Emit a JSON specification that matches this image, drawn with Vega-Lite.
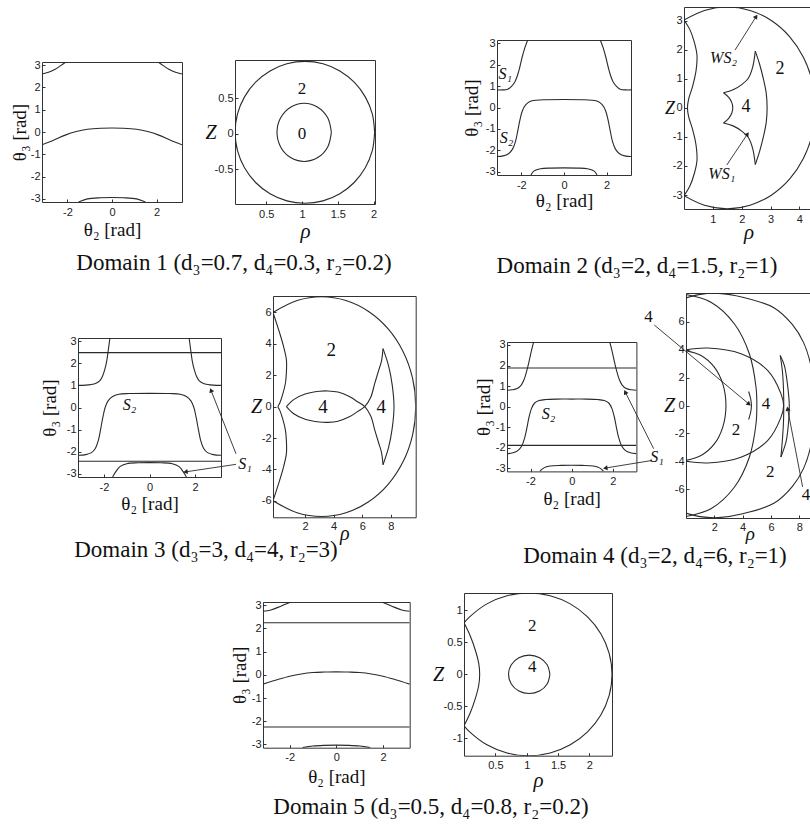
{
"$schema": "https://vega.github.io/schema/vega-lite/v6.json",
"background": "white",
"padding": 0,
"config": {
  "view": {"stroke": "#333", "strokeWidth": 1},
  "axis": {"domain": false, "grid": false, "ticks": true, "tickSize": -3, "tickColor": "#333", "labelFont": "Liberation Sans", "labelFontSize": 11, "labelColor": "#222", "titleFont": "Liberation Serif", "titleFontSize": 19, "titleFontWeight": "normal", "titleColor": "#111", "titleBaseline": "middle", "titleAlign": "center", "labelFlush": false, "labelOverlap": false, "labelBound": false},
  "axisX": {"labelPadding": 7},
  "axisY": {"labelPadding": 5},
  "line": {"color": "#2a2a2a", "strokeWidth": 1.1},
  "text": {"font": "Liberation Serif", "fontSize": 18, "color": "#111"},
  "point": {"color": "#222"}
},
"datasets": {
  "d1l": [
    {"c":"a","x":-3.14,"y":2.6},{"c":"a","x":-2.85,"y":2.68},{"c":"a","x":-2.55,"y":2.82},{"c":"a","x":-2.3,"y":2.98},{"c":"a","x":-2.07,"y":3.14},
    {"c":"b","x":2.07,"y":3.14},{"c":"b","x":2.3,"y":2.98},{"c":"b","x":2.55,"y":2.82},{"c":"b","x":2.85,"y":2.68},{"c":"b","x":3.14,"y":2.6},
    {"c":"c","x":-3.14,"y":-0.57},{"c":"c","x":-2.6,"y":-0.36},{"c":"c","x":-2.1,"y":-0.14},{"c":"c","x":-1.6,"y":0.02},{"c":"c","x":-1.1,"y":0.12},{"c":"c","x":-0.5,"y":0.17},{"c":"c","x":0,"y":0.18},{"c":"c","x":0.5,"y":0.17},{"c":"c","x":1.1,"y":0.12},{"c":"c","x":1.6,"y":0.02},{"c":"c","x":2.1,"y":-0.14},{"c":"c","x":2.6,"y":-0.36},{"c":"c","x":3.14,"y":-0.57},
    {"c":"d","x":-1.5,"y":-3.14},{"c":"d","x":-1.1,"y":-3.0},{"c":"d","x":-0.5,"y":-2.95},{"c":"d","x":0,"y":-2.94},{"c":"d","x":0.5,"y":-2.95},{"c":"d","x":1.1,"y":-3.0},{"c":"d","x":1.5,"y":-3.14}
  ],
  "d1r": [
    {"c":"o","x":2.015,"y":0.02},{"c":"o","x":1.982,"y":0.279},{"c":"o","x":1.884,"y":0.52},{"c":"o","x":1.729,"y":0.727},{"c":"o","x":1.528,"y":0.886},{"c":"o","x":1.293,"y":0.986},{"c":"o","x":1.04,"y":1.02},{"c":"o","x":0.788,"y":0.986},{"c":"o","x":0.553,"y":0.886},{"c":"o","x":0.351,"y":0.727},{"c":"o","x":0.196,"y":0.52},{"c":"o","x":0.098,"y":0.279},{"c":"o","x":0.065,"y":0.02},{"c":"o","x":0.098,"y":-0.239},{"c":"o","x":0.196,"y":-0.48},{"c":"o","x":0.351,"y":-0.687},{"c":"o","x":0.553,"y":-0.846},{"c":"o","x":0.788,"y":-0.946},{"c":"o","x":1.04,"y":-0.98},{"c":"o","x":1.293,"y":-0.946},{"c":"o","x":1.528,"y":-0.846},{"c":"o","x":1.729,"y":-0.687},{"c":"o","x":1.884,"y":-0.48},{"c":"o","x":1.982,"y":-0.239},{"c":"o","x":2.015,"y":0.02},
    {"c":"i","x":1.41,"y":0.02},{"c":"i","x":1.359,"y":0.225},{"c":"i","x":1.22,"y":0.375},{"c":"i","x":1.03,"y":0.43},{"c":"i","x":0.84,"y":0.375},{"c":"i","x":0.701,"y":0.225},{"c":"i","x":0.65,"y":0.02},{"c":"i","x":0.701,"y":-0.185},{"c":"i","x":0.84,"y":-0.335},{"c":"i","x":1.03,"y":-0.39},{"c":"i","x":1.22,"y":-0.335},{"c":"i","x":1.359,"y":-0.185},{"c":"i","x":1.41,"y":0.02}
  ],
  "d2l": [
    {"c":"a","x":-3.14,"y":0.82},{"c":"a","x":-2.9,"y":0.82},{"c":"a","x":-2.64,"y":0.85},{"c":"a","x":-2.45,"y":1.0},{"c":"a","x":-2.3,"y":1.2},{"c":"a","x":-2.18,"y":1.5},{"c":"a","x":-2.08,"y":1.85},{"c":"a","x":-1.96,"y":2.35},{"c":"a","x":-1.83,"y":2.8},{"c":"a","x":-1.7,"y":3.14},
    {"c":"b","x":1.7,"y":3.14},{"c":"b","x":1.83,"y":2.8},{"c":"b","x":1.96,"y":2.35},{"c":"b","x":2.08,"y":1.85},{"c":"b","x":2.18,"y":1.5},{"c":"b","x":2.3,"y":1.2},{"c":"b","x":2.45,"y":1.0},{"c":"b","x":2.64,"y":0.85},{"c":"b","x":2.9,"y":0.82},{"c":"b","x":3.14,"y":0.82},
    {"c":"c","x":-3.14,"y":-2.28},{"c":"c","x":-2.85,"y":-2.25},{"c":"c","x":-2.6,"y":-2.15},{"c":"c","x":-2.42,"y":-1.95},{"c":"c","x":-2.28,"y":-1.6},{"c":"c","x":-2.17,"y":-1.1},{"c":"c","x":-2.07,"y":-0.6},{"c":"c","x":-1.95,"y":-0.15},{"c":"c","x":-1.8,"y":0.12},{"c":"c","x":-1.6,"y":0.28},{"c":"c","x":-1.3,"y":0.34},{"c":"c","x":-0.8,"y":0.36},{"c":"c","x":0,"y":0.37},{"c":"c","x":0.8,"y":0.36},{"c":"c","x":1.3,"y":0.34},{"c":"c","x":1.6,"y":0.28},{"c":"c","x":1.8,"y":0.12},{"c":"c","x":1.95,"y":-0.15},{"c":"c","x":2.07,"y":-0.6},{"c":"c","x":2.17,"y":-1.1},{"c":"c","x":2.28,"y":-1.6},{"c":"c","x":2.42,"y":-1.95},{"c":"c","x":2.6,"y":-2.15},{"c":"c","x":2.85,"y":-2.25},{"c":"c","x":3.14,"y":-2.28},
    {"c":"d","x":-1.55,"y":-3.14},{"c":"d","x":-1.4,"y":-2.95},{"c":"d","x":-1.1,"y":-2.85},{"c":"d","x":-0.6,"y":-2.82},{"c":"d","x":0,"y":-2.81},{"c":"d","x":0.6,"y":-2.82},{"c":"d","x":1.1,"y":-2.85},{"c":"d","x":1.4,"y":-2.95},{"c":"d","x":1.55,"y":-3.14}
  ],
  "d2r": [
    {"c":"o","x":0,"y":3.02},{"c":"o","x":0.71,"y":3.35},{"c":"o","x":1.5,"y":3.47},{"c":"o","x":2.29,"y":3.35},{"c":"o","x":3.025,"y":3.005},{"c":"o","x":3.657,"y":2.454},{"c":"o","x":4.141,"y":1.735},{"c":"o","x":4.446,"y":0.898},{"c":"o","x":4.55,"y":0},{"c":"o","x":4.446,"y":-0.898},{"c":"o","x":4.141,"y":-1.735},{"c":"o","x":3.657,"y":-2.454},{"c":"o","x":3.025,"y":-3.005},{"c":"o","x":2.29,"y":-3.35},{"c":"o","x":1.5,"y":-3.47},{"c":"o","x":0.71,"y":-3.35},{"c":"o","x":0,"y":-3.02},
    {"c":"w","x":0,"y":3.02},{"c":"w","x":0.2,"y":2.7},{"c":"w","x":0.36,"y":2.25},{"c":"w","x":0.45,"y":1.8},{"c":"w","x":0.42,"y":1.3},{"c":"w","x":0.3,"y":0.75},{"c":"w","x":0.16,"y":0.3},{"c":"w","x":0.12,"y":0},{"c":"w","x":0.16,"y":-0.3},{"c":"w","x":0.3,"y":-0.75},{"c":"w","x":0.42,"y":-1.3},{"c":"w","x":0.45,"y":-1.8},{"c":"w","x":0.36,"y":-2.25},{"c":"w","x":0.2,"y":-2.7},{"c":"w","x":0,"y":-3.02},
    {"c":"r","x":2.47,"y":1.95},{"c":"r","x":2.62,"y":1.5},{"c":"r","x":2.75,"y":1.0},{"c":"r","x":2.85,"y":0.5},{"c":"r","x":2.88,"y":0},{"c":"r","x":2.85,"y":-0.5},{"c":"r","x":2.75,"y":-1.0},{"c":"r","x":2.62,"y":-1.5},{"c":"r","x":2.47,"y":-1.95},
    {"c":"u","x":2.47,"y":1.95},{"c":"u","x":2.38,"y":1.4},{"c":"u","x":2.23,"y":1.02},{"c":"u","x":2.0,"y":0.8},{"c":"u","x":1.7,"y":0.62},{"c":"u","x":1.37,"y":0.52},
    {"c":"s","x":1.37,"y":0.52},{"c":"s","x":1.55,"y":0.36},{"c":"s","x":1.66,"y":0.17},{"c":"s","x":1.69,"y":0},{"c":"s","x":1.66,"y":-0.17},{"c":"s","x":1.55,"y":-0.36},{"c":"s","x":1.37,"y":-0.52},
    {"c":"l","x":1.37,"y":-0.52},{"c":"l","x":1.7,"y":-0.62},{"c":"l","x":2.0,"y":-0.8},{"c":"l","x":2.23,"y":-1.02},{"c":"l","x":2.38,"y":-1.4},{"c":"l","x":2.47,"y":-1.95}
  ],
  "a2r": [
    {"c":"A","x":1.77,"y":1.99,"h":0},{"c":"A","x":2.5,"y":3.14,"h":1},
    {"c":"B","x":1.48,"y":-1.97,"h":0},{"c":"B","x":2.2,"y":-0.9,"h":1}
  ],
  "d3l": [
    {"c":"h1","x":-3.1416,"y":2.48},{"c":"h1","x":3.1416,"y":2.48},
    {"c":"h2","x":-3.1416,"y":-2.43},{"c":"h2","x":3.1416,"y":-2.43},
    {"c":"a","x":-3.14,"y":1.0},{"c":"a","x":-2.8,"y":1.01},{"c":"a","x":-2.56,"y":1.04},{"c":"a","x":-2.35,"y":1.1},{"c":"a","x":-2.19,"y":1.2},{"c":"a","x":-2.07,"y":1.4},{"c":"a","x":-1.97,"y":1.7},{"c":"a","x":-1.88,"y":2.1},{"c":"a","x":-1.81,"y":2.6},{"c":"a","x":-1.74,"y":3.14},
    {"c":"b","x":1.74,"y":3.14},{"c":"b","x":1.81,"y":2.6},{"c":"b","x":1.88,"y":2.1},{"c":"b","x":1.97,"y":1.7},{"c":"b","x":2.07,"y":1.4},{"c":"b","x":2.19,"y":1.2},{"c":"b","x":2.35,"y":1.1},{"c":"b","x":2.56,"y":1.04},{"c":"b","x":2.8,"y":1.01},{"c":"b","x":3.14,"y":1.0},
    {"c":"c","x":-3.14,"y":-2.16},{"c":"c","x":-2.8,"y":-2.13},{"c":"c","x":-2.55,"y":-2.04},{"c":"c","x":-2.38,"y":-1.85},{"c":"c","x":-2.25,"y":-1.5},{"c":"c","x":-2.15,"y":-1.0},{"c":"c","x":-2.05,"y":-0.45},{"c":"c","x":-1.95,"y":0.0},{"c":"c","x":-1.82,"y":0.3},{"c":"c","x":-1.62,"y":0.5},{"c":"c","x":-1.35,"y":0.6},{"c":"c","x":-0.9,"y":0.63},{"c":"c","x":0,"y":0.64},{"c":"c","x":0.9,"y":0.63},{"c":"c","x":1.35,"y":0.6},{"c":"c","x":1.62,"y":0.5},{"c":"c","x":1.82,"y":0.3},{"c":"c","x":1.95,"y":0.0},{"c":"c","x":2.05,"y":-0.45},{"c":"c","x":2.15,"y":-1.0},{"c":"c","x":2.25,"y":-1.5},{"c":"c","x":2.38,"y":-1.85},{"c":"c","x":2.55,"y":-2.04},{"c":"c","x":2.8,"y":-2.13},{"c":"c","x":3.14,"y":-2.16},
    {"c":"d","x":-1.62,"y":-3.14},{"c":"d","x":-1.48,"y":-2.9},{"c":"d","x":-1.3,"y":-2.67},{"c":"d","x":-1.0,"y":-2.54},{"c":"d","x":-0.5,"y":-2.5},{"c":"d","x":0,"y":-2.49},{"c":"d","x":0.5,"y":-2.5},{"c":"d","x":1.0,"y":-2.54},{"c":"d","x":1.3,"y":-2.67},{"c":"d","x":1.48,"y":-2.9},{"c":"d","x":1.62,"y":-3.14}
  ],
  "a3l": [
    {"c":"C","x":3.8,"y":-2.09,"h":0},{"c":"C","x":2.7,"y":0.78,"h":1},
    {"c":"D","x":3.8,"y":-2.57,"h":0},{"c":"D","x":1.58,"y":-2.91,"h":1}
  ],
  "d3r": [
    {"c":"o","x":-0.25,"y":6.0},{"c":"o","x":1.44,"y":6.76},{"c":"o","x":3.15,"y":7.0},{"c":"o","x":4.86,"y":6.76},{"c":"o","x":6.45,"y":6.06},{"c":"o","x":7.82,"y":4.95},{"c":"o","x":8.87,"y":3.5},{"c":"o","x":9.53,"y":1.81},{"c":"o","x":9.75,"y":0},{"c":"o","x":9.53,"y":-1.81},{"c":"o","x":8.87,"y":-3.5},{"c":"o","x":7.82,"y":-4.95},{"c":"o","x":6.45,"y":-6.06},{"c":"o","x":4.86,"y":-6.76},{"c":"o","x":3.15,"y":-7.0},{"c":"o","x":1.44,"y":-6.76},{"c":"o","x":-0.25,"y":-6.0},
    {"c":"w","x":-0.25,"y":6.0},{"c":"w","x":0.22,"y":4.68},{"c":"w","x":0.5,"y":3.8},{"c":"w","x":0.69,"y":2.98},{"c":"w","x":0.69,"y":2.2},{"c":"w","x":0.62,"y":1.49},{"c":"w","x":0.42,"y":0.75},{"c":"w","x":0.22,"y":0.22},{"c":"w","x":0.1,"y":0},{"c":"w","x":0.22,"y":-0.22},{"c":"w","x":0.42,"y":-0.75},{"c":"w","x":0.62,"y":-1.49},{"c":"w","x":0.69,"y":-2.2},{"c":"w","x":0.69,"y":-2.98},{"c":"w","x":0.5,"y":-3.8},{"c":"w","x":0.22,"y":-4.68},{"c":"w","x":-0.25,"y":-6.0},
    {"c":"u","x":0.69,"y":0},{"c":"u","x":1.2,"y":0.45},{"c":"u","x":2.0,"y":0.8},{"c":"u","x":3.0,"y":0.98},{"c":"u","x":3.6,"y":1.0},{"c":"u","x":4.3,"y":0.93},{"c":"u","x":5.1,"y":0.65},{"c":"u","x":5.7,"y":0.3},{"c":"u","x":6.18,"y":0},{"c":"u","x":6.6,"y":-0.6},{"c":"u","x":6.88,"y":-1.48},{"c":"u","x":7.15,"y":-2.3},{"c":"u","x":7.35,"y":-2.9},{"c":"u","x":7.46,"y":-3.7},
    {"c":"l","x":0.69,"y":0},{"c":"l","x":1.2,"y":-0.45},{"c":"l","x":2.0,"y":-0.8},{"c":"l","x":3.0,"y":-0.98},{"c":"l","x":3.6,"y":-1.0},{"c":"l","x":4.3,"y":-0.93},{"c":"l","x":5.1,"y":-0.65},{"c":"l","x":5.7,"y":-0.3},{"c":"l","x":6.18,"y":0},{"c":"l","x":6.6,"y":0.6},{"c":"l","x":6.88,"y":1.48},{"c":"l","x":7.15,"y":2.3},{"c":"l","x":7.35,"y":2.9},{"c":"l","x":7.46,"y":3.7},
    {"c":"e","x":7.46,"y":3.7},{"c":"e","x":7.85,"y":2.6},{"c":"e","x":8.1,"y":1.4},{"c":"e","x":8.23,"y":0},{"c":"e","x":8.1,"y":-1.4},{"c":"e","x":7.85,"y":-2.6},{"c":"e","x":7.46,"y":-3.7}
  ],
  "d4l": [
    {"c":"h1","x":-3.1416,"y":1.88},{"c":"h1","x":3.1416,"y":1.88},
    {"c":"h2","x":-3.1416,"y":-1.88},{"c":"h2","x":3.1416,"y":-1.88},
    {"c":"a","x":-3.14,"y":0.8},{"c":"a","x":-2.9,"y":0.82},{"c":"a","x":-2.65,"y":0.88},{"c":"a","x":-2.45,"y":1.05},{"c":"a","x":-2.3,"y":1.35},{"c":"a","x":-2.18,"y":1.75},{"c":"a","x":-2.07,"y":2.2},{"c":"a","x":-1.96,"y":2.7},{"c":"a","x":-1.85,"y":3.14},
    {"c":"b","x":1.85,"y":3.14},{"c":"b","x":1.96,"y":2.7},{"c":"b","x":2.07,"y":2.2},{"c":"b","x":2.18,"y":1.75},{"c":"b","x":2.3,"y":1.35},{"c":"b","x":2.45,"y":1.05},{"c":"b","x":2.65,"y":0.88},{"c":"b","x":2.9,"y":0.82},{"c":"b","x":3.14,"y":0.8},
    {"c":"c","x":-3.14,"y":-2.28},{"c":"c","x":-2.85,"y":-2.24},{"c":"c","x":-2.6,"y":-2.12},{"c":"c","x":-2.42,"y":-1.9},{"c":"c","x":-2.28,"y":-1.5},{"c":"c","x":-2.17,"y":-1.0},{"c":"c","x":-2.07,"y":-0.5},{"c":"c","x":-1.95,"y":-0.08},{"c":"c","x":-1.8,"y":0.18},{"c":"c","x":-1.58,"y":0.3},{"c":"c","x":-1.25,"y":0.35},{"c":"c","x":-0.7,"y":0.37},{"c":"c","x":0,"y":0.37},{"c":"c","x":0.7,"y":0.37},{"c":"c","x":1.25,"y":0.35},{"c":"c","x":1.58,"y":0.3},{"c":"c","x":1.8,"y":0.18},{"c":"c","x":1.95,"y":-0.08},{"c":"c","x":2.07,"y":-0.5},{"c":"c","x":2.17,"y":-1.0},{"c":"c","x":2.28,"y":-1.5},{"c":"c","x":2.42,"y":-1.9},{"c":"c","x":2.6,"y":-2.12},{"c":"c","x":2.85,"y":-2.24},{"c":"c","x":3.14,"y":-2.28},
    {"c":"d","x":-1.55,"y":-3.14},{"c":"d","x":-1.35,"y":-2.97},{"c":"d","x":-1.05,"y":-2.88},{"c":"d","x":-0.5,"y":-2.85},{"c":"d","x":0,"y":-2.84},{"c":"d","x":0.5,"y":-2.85},{"c":"d","x":1.05,"y":-2.88},{"c":"d","x":1.35,"y":-2.97},{"c":"d","x":1.55,"y":-3.14}
  ],
  "a4l": [
    {"c":"E","x":3.98,"y":-2.04,"h":0},{"c":"E","x":2.6,"y":0.71,"h":1},
    {"c":"F","x":3.9,"y":-2.61,"h":0},{"c":"F","x":1.63,"y":-2.98,"h":1}
  ],
  "d4r": [
    {"c":"A","x":0,"y":7.94},{"c":"A","x":1.76,"y":7.39},{"c":"A","x":3.41,"y":5.85},{"c":"A","x":4.47,"y":3.7},{"c":"A","x":4.94,"y":1.32},{"c":"A","x":5.0,"y":0},{"c":"A","x":4.94,"y":-1.32},{"c":"A","x":4.47,"y":-3.7},{"c":"A","x":3.41,"y":-5.85},{"c":"A","x":1.76,"y":-7.39},{"c":"A","x":0,"y":-7.94},
    {"c":"B","x":0,"y":7.7},{"c":"B","x":1.0,"y":7.95},{"c":"B","x":2.3,"y":8.02},{"c":"B","x":4.0,"y":7.75},{"c":"B","x":6.2,"y":7.0},{"c":"B","x":7.5,"y":5.8},{"c":"B","x":8.3,"y":4.5},{"c":"B","x":8.85,"y":2.7},{"c":"B","x":9.15,"y":0},{"c":"B","x":8.85,"y":-2.7},{"c":"B","x":8.3,"y":-4.5},{"c":"B","x":7.5,"y":-5.8},{"c":"B","x":6.2,"y":-7.0},{"c":"B","x":4.0,"y":-7.75},{"c":"B","x":2.3,"y":-8.02},{"c":"B","x":1.0,"y":-7.95},{"c":"B","x":0,"y":-7.7},
    {"c":"C","x":0,"y":3.93},{"c":"C","x":1.06,"y":3.58},{"c":"C","x":2.0,"y":2.75},{"c":"C","x":2.59,"y":1.56},{"c":"C","x":2.82,"y":0},{"c":"C","x":2.59,"y":-1.56},{"c":"C","x":2.0,"y":-2.75},{"c":"C","x":1.06,"y":-3.58},{"c":"C","x":0,"y":-3.93},
    {"c":"D","x":0,"y":3.99},{"c":"D","x":1.53,"y":4.11},{"c":"D","x":3.88,"y":3.7},{"c":"D","x":5.76,"y":2.51},{"c":"D","x":6.7,"y":0.85},{"c":"D","x":6.89,"y":0},{"c":"D","x":6.7,"y":-0.85},{"c":"D","x":5.76,"y":-2.51},{"c":"D","x":3.88,"y":-3.7},{"c":"D","x":1.53,"y":-4.11},{"c":"D","x":0,"y":-3.99},
    {"c":"s","x":4.42,"y":1.0},{"c":"s","x":4.56,"y":0.5},{"c":"s","x":4.62,"y":0},{"c":"s","x":4.56,"y":-0.5},{"c":"s","x":4.42,"y":-1.0},
    {"c":"r","x":6.65,"y":3.58},{"c":"r","x":6.94,"y":2.87},{"c":"r","x":7.17,"y":1.44},{"c":"r","x":7.29,"y":0},{"c":"r","x":7.22,"y":-1.41},{"c":"r","x":7.06,"y":-2.6},{"c":"r","x":6.7,"y":-3.68},
    {"c":"q","x":6.65,"y":3.58},{"c":"q","x":6.8,"y":2.5},{"c":"q","x":6.88,"y":1.2},{"c":"q","x":6.9,"y":0},{"c":"q","x":6.88,"y":-1.2},{"c":"q","x":6.8,"y":-2.5},{"c":"q","x":6.7,"y":-3.68}
  ],
  "a4r": [
    {"c":"G","x":-2.24,"y":5.76,"h":0},{"c":"G","x":4.45,"y":0.1,"h":1},
    {"c":"H","x":8.23,"y":-5.82,"h":0},{"c":"H","x":7.17,"y":-0.23,"h":1}
  ],
  "d5l": [
    {"c":"h1","x":-3.1416,"y":2.25},{"c":"h1","x":3.1416,"y":2.25},
    {"c":"h2","x":-3.1416,"y":-2.25},{"c":"h2","x":3.1416,"y":-2.25},
    {"c":"a","x":-3.14,"y":2.74},{"c":"a","x":-2.8,"y":2.8},{"c":"a","x":-2.4,"y":2.95},{"c":"a","x":-2.1,"y":3.08},{"c":"a","x":-1.93,"y":3.14},
    {"c":"b","x":1.93,"y":3.14},{"c":"b","x":2.1,"y":3.08},{"c":"b","x":2.4,"y":2.95},{"c":"b","x":2.8,"y":2.8},{"c":"b","x":3.14,"y":2.74},
    {"c":"c","x":-3.14,"y":-0.4},{"c":"c","x":-2.5,"y":-0.2},{"c":"c","x":-2,"y":-0.06},{"c":"c","x":-1.5,"y":0.04},{"c":"c","x":-1,"y":0.1},{"c":"c","x":-0.5,"y":0.12},{"c":"c","x":0,"y":0.13},{"c":"c","x":0.5,"y":0.12},{"c":"c","x":1,"y":0.1},{"c":"c","x":1.5,"y":0.04},{"c":"c","x":2,"y":-0.06},{"c":"c","x":2.5,"y":-0.2},{"c":"c","x":3.14,"y":-0.4},
    {"c":"d","x":-1.45,"y":-3.14},{"c":"d","x":-1,"y":-3.07},{"c":"d","x":-0.5,"y":-3.04},{"c":"d","x":0,"y":-3.03},{"c":"d","x":0.5,"y":-3.04},{"c":"d","x":1,"y":-3.07},{"c":"d","x":1.45,"y":-3.14}
  ],
  "d5r": [
    {"c":"o","x":0,"y":0.804},{"c":"o","x":0.09,"y":0.898},{"c":"o","x":0.365,"y":1.1},{"c":"o","x":0.686,"y":1.227},{"c":"o","x":1.03,"y":1.27},{"c":"o","x":1.374,"y":1.227},{"c":"o","x":1.695,"y":1.1},{"c":"o","x":1.97,"y":0.898},{"c":"o","x":2.182,"y":0.635},{"c":"o","x":2.315,"y":0.329},{"c":"o","x":2.36,"y":0},{"c":"o","x":2.315,"y":-0.329},{"c":"o","x":2.182,"y":-0.635},{"c":"o","x":1.97,"y":-0.898},{"c":"o","x":1.695,"y":-1.1},{"c":"o","x":1.374,"y":-1.227},{"c":"o","x":1.03,"y":-1.27},{"c":"o","x":0.686,"y":-1.227},{"c":"o","x":0.365,"y":-1.1},{"c":"o","x":0.09,"y":-0.898},{"c":"o","x":0,"y":-0.804},
    {"c":"w","x":0,"y":0.804},{"c":"w","x":0.1,"y":0.6},{"c":"w","x":0.18,"y":0.38},{"c":"w","x":0.235,"y":0.17},{"c":"w","x":0.25,"y":0},{"c":"w","x":0.235,"y":-0.17},{"c":"w","x":0.18,"y":-0.38},{"c":"w","x":0.1,"y":-0.6},{"c":"w","x":0,"y":-0.804},
    {"c":"i","x":1.37,"y":0},{"c":"i","x":1.326,"y":0.15},{"c":"i","x":1.205,"y":0.26},{"c":"i","x":1.04,"y":0.3},{"c":"i","x":0.875,"y":0.26},{"c":"i","x":0.754,"y":0.15},{"c":"i","x":0.71,"y":0},{"c":"i","x":0.754,"y":-0.15},{"c":"i","x":0.875,"y":-0.26},{"c":"i","x":1.04,"y":-0.3},{"c":"i","x":1.205,"y":-0.26},{"c":"i","x":1.326,"y":-0.15},{"c":"i","x":1.37,"y":0}
  ]
},
"vconcat": [
  {"hconcat": [
    {"width":39,"height":1,"view":{"stroke":null},"data":{"values":[{}]},"mark":{"type":"point","opacity":0}},
    {"vconcat": [
      {"width":1,"height":59,"view":{"stroke":null},"data":{"values":[{}]},"mark":{"type":"point","opacity":0}},
      {"width":140,"height":140,
       "encoding":{"x":{"field":"x","type":"quantitative","scale":{"domain":[-3.1416,3.1416],"nice":false,"zero":false},"axis":{"values":[-2,0,2],"title":"θ₂ [rad]","titleY":27,"labelExpr":"toString(datum.value)"}},
                   "y":{"field":"y","type":"quantitative","scale":{"domain":[-3.1416,3.1416],"nice":false,"zero":false},"axis":{"values":[-3,-2,-1,0,1,2,3],"title":"θ₃ [rad]","titleX":-22.3,"labelExpr":"toString(datum.value)"}}},
       "layer":[{"data":{"name":"d1l"},"mark":{"type":"line","interpolate":"catmull-rom","clip":true},"encoding":{"detail":{"field":"c","type":"nominal"},"order":{"value":null}}}]}
    ], "spacing":0, "bounds":"flush"},
    {"width":22,"height":1,"view":{"stroke":null},"data":{"values":[{}]},"mark":{"type":"point","opacity":0}},
    {"vconcat": [
      {"width":1,"height":245,"view":{"stroke":null},"data":{"values":[{}]},"mark":{"type":"point","opacity":0}},
      {"width":340,"height":30,"view":{"stroke":null},"data":{"values":[{"t":"Domain 1 (d₃=0.7, d₄=0.3, r₂=0.2)"}]},"mark":{"type":"text","fontSize":23},"encoding":{"text":{"field":"t","type":"nominal"}}}
    ], "spacing":0, "bounds":"flush"},
    {"width":171,"height":1,"view":{"stroke":null},"data":{"values":[{}]},"mark":{"type":"point","opacity":0}},
    {"vconcat": [
      {"width":1,"height":57,"view":{"stroke":null},"data":{"values":[{}]},"mark":{"type":"point","opacity":0}},
      {"width":140,"height":144,
       "encoding":{"x":{"field":"x","type":"quantitative","scale":{"domain":[0.063,2.02],"nice":false,"zero":false},"axis":{"values":[0.5,1,1.5,2],"title":"ρ","titleY":27,"titleFontStyle":"italic","titleFontSize":21,"labelExpr":"toString(datum.value)"}},
                   "y":{"field":"y","type":"quantitative","scale":{"domain":[-0.99,1.04],"nice":false,"zero":false},"axis":{"values":[-0.5,0,0.5],"title":"Z","titleX":-24.5,"titleAngle":0,"titleFontStyle":"italic","titleFontSize":20,"labelExpr":"toString(datum.value)"}}},
       "layer":[
         {"data":{"name":"d1r"},"mark":{"type":"line","interpolate":"catmull-rom","clip":true},"encoding":{"detail":{"field":"c","type":"nominal"},"order":{"value":null}}},
         {"data":{"values":[{"x":1.0,"y":0.63,"t":"2"},{"x":1.0,"y":0.0,"t":"0"}]},"mark":{"type":"text","fontSize":17},"encoding":{"text":{"field":"t","type":"nominal"}}}
       ]}
    ], "spacing":0, "bounds":"flush"},
    {"width":232,"height":1,"view":{"stroke":null},"data":{"values":[{}]},"mark":{"type":"point","opacity":0}},
    {"vconcat": [
      {"width":1,"height":248,"view":{"stroke":null},"data":{"values":[{}]},"mark":{"type":"point","opacity":0}},
      {"width":340,"height":30,"view":{"stroke":null},"data":{"values":[{"t":"Domain 2 (d₃=2, d₄=1.5, r₂=1)"}]},"mark":{"type":"text","fontSize":23},"encoding":{"text":{"field":"t","type":"nominal"}}}
    ], "spacing":0, "bounds":"flush"},
    {"width":30,"height":1,"view":{"stroke":null},"data":{"values":[{}]},"mark":{"type":"point","opacity":0}},
    {"vconcat": [
      {"width":1,"height":37,"view":{"stroke":null},"data":{"values":[{}]},"mark":{"type":"point","opacity":0}},
      {"width":134,"height":135,
       "encoding":{"x":{"field":"x","type":"quantitative","scale":{"domain":[-3.1416,3.1416],"nice":false,"zero":false},"axis":{"values":[-2,0,2],"title":"θ₂ [rad]","titleY":25.5,"labelExpr":"toString(datum.value)"}},
                   "y":{"field":"y","type":"quantitative","scale":{"domain":[-3.1416,3.1416],"nice":false,"zero":false},"axis":{"values":[-3,-2,-1,0,1,2,3],"title":"θ₃ [rad]","titleX":-26,"labelExpr":"toString(datum.value)"}}},
       "layer":[
         {"data":{"name":"d2l"},"mark":{"type":"line","interpolate":"catmull-rom","clip":true},"encoding":{"detail":{"field":"c","type":"nominal"},"order":{"value":null}}},
         {"data":{"values":[{"x":-2.75,"y":1.54,"t":"S₁"},{"x":-2.69,"y":-1.4,"t":"S₂"}]},"mark":{"type":"text","fontSize":16,"fontStyle":"italic"},"encoding":{"text":{"field":"t","type":"nominal"}}}
       ]}
    ], "spacing":0, "bounds":"flush"},
    {"width":186.4,"height":1,"view":{"stroke":null},"data":{"values":[{}]},"mark":{"type":"point","opacity":0}},
    {"vconcat": [
      {"width":1,"height":4,"view":{"stroke":null},"data":{"values":[{}]},"mark":{"type":"point","opacity":0}},
      {"width":129,"height":202,
       "encoding":{"x":{"field":"x","type":"quantitative","scale":{"domain":[0,4.47],"nice":false,"zero":false},"axis":{"values":[1,2,3,4],"title":"ρ","titleY":23,"titleFontStyle":"italic","titleFontSize":21,"labelExpr":"toString(datum.value)"}},
                   "y":{"field":"y","type":"quantitative","scale":{"domain":[-3.48,3.47],"nice":false,"zero":false},"axis":{"values":[-3,-2,-1,0,1,2,3],"title":"Z","titleX":-14.5,"titleAngle":0,"titleFontStyle":"italic","titleFontSize":18,"labelExpr":"toString(datum.value)"}}},
       "layer":[
         {"data":{"name":"d2r"},"mark":{"type":"line","interpolate":"catmull-rom","clip":true},"encoding":{"detail":{"field":"c","type":"nominal"},"order":{"value":null}}},
         {"data":{"name":"a2r"},"mark":{"type":"line","strokeWidth":0.9},"encoding":{"detail":{"field":"c","type":"nominal"},"order":{"value":null}}},
         {"data":{"name":"a2r"},"transform":[{"filter":"datum.c=='A' && datum.h==1"}],"mark":{"type":"point","shape":"triangle-up","filled":true,"size":26,"angle":32.3,"opacity":1}},
         {"data":{"name":"a2r"},"transform":[{"filter":"datum.c=='B' && datum.h==1"}],"mark":{"type":"point","shape":"triangle-up","filled":true,"size":26,"angle":33.9,"opacity":1}},
         {"data":{"values":[{"x":3.33,"y":1.34,"t":"2"},{"x":2.15,"y":0.02,"t":"4"}]},"mark":{"type":"text","fontSize":18},"encoding":{"text":{"field":"t","type":"nominal"}}},
         {"data":{"values":[{"x":1.37,"y":1.71,"t":"WS₂"},{"x":1.31,"y":-2.26,"t":"WS₁"}]},"mark":{"type":"text","fontSize":16,"fontStyle":"italic"},"encoding":{"text":{"field":"t","type":"nominal"}}}
       ]}
    ], "spacing":0, "bounds":"flush"}
  ], "spacing":0, "bounds":"flush"},
  {"width":1,"height":285,"view":{"stroke":null},"data":{"values":[{}]},"mark":{"type":"point","opacity":0}},
  {"hconcat": [
    {"width":33,"height":1,"view":{"stroke":null},"data":{"values":[{}]},"mark":{"type":"point","opacity":0}},
    {"vconcat": [
      {"width":1,"height":247,"view":{"stroke":null},"data":{"values":[{}]},"mark":{"type":"point","opacity":0}},
      {"width":340,"height":30,"view":{"stroke":null},"data":{"values":[{"t":"Domain 3 (d₃=3, d₄=4, r₂=3)"}]},"mark":{"type":"text","fontSize":23},"encoding":{"text":{"field":"t","type":"nominal"}}}
    ], "spacing":0, "bounds":"flush"},
    {"width":42,"height":1,"view":{"stroke":null},"data":{"values":[{}]},"mark":{"type":"point","opacity":0}},
    {"vconcat": [
      {"width":1,"height":49.3,"view":{"stroke":null},"data":{"values":[{}]},"mark":{"type":"point","opacity":0}},
      {"width":143,"height":139,
       "encoding":{"x":{"field":"x","type":"quantitative","scale":{"domain":[-3.1416,3.1416],"nice":false,"zero":false},"axis":{"values":[-2,0,2],"title":"θ₂ [rad]","titleY":26,"labelExpr":"toString(datum.value)"}},
                   "y":{"field":"y","type":"quantitative","scale":{"domain":[-3.1416,3.1416],"nice":false,"zero":false},"axis":{"values":[-3,-2,-1,0,1,2,3],"title":"θ₃ [rad]","titleX":-28.3,"labelExpr":"toString(datum.value)"}}},
       "layer":[
         {"data":{"name":"d3l"},"mark":{"type":"line","interpolate":"catmull-rom","clip":true},"encoding":{"detail":{"field":"c","type":"nominal"},"order":{"value":null}}},
         {"data":{"name":"a3l"},"mark":{"type":"line","strokeWidth":0.9},"encoding":{"detail":{"field":"c","type":"nominal"},"order":{"value":null}}},
         {"data":{"name":"a3l"},"transform":[{"filter":"datum.c=='C' && datum.h==1"}],"mark":{"type":"point","shape":"triangle-up","filled":true,"size":26,"angle":338.4,"opacity":1}},
         {"data":{"name":"a3l"},"transform":[{"filter":"datum.c=='D' && datum.h==1"}],"mark":{"type":"point","shape":"triangle-up","filled":true,"size":26,"angle":261.6,"opacity":1}},
         {"data":{"values":[{"x":-0.88,"y":0.1,"t":"S₂"},{"x":4.2,"y":-2.54,"t":"S₁"}]},"mark":{"type":"text","fontSize":16,"fontStyle":"italic"},"encoding":{"text":{"field":"t","type":"nominal"}}}
       ]}
    ], "spacing":0, "bounds":"flush"},
    {"width":195,"height":1,"view":{"stroke":null},"data":{"values":[{}]},"mark":{"type":"point","opacity":0}},
    {"vconcat": [
      {"width":1,"height":7.7,"view":{"stroke":null},"data":{"values":[{}]},"mark":{"type":"point","opacity":0}},
      {"width":142.7,"height":221.3,
       "encoding":{"x":{"field":"x","type":"quantitative","scale":{"domain":[-0.25,9.75],"nice":false,"zero":false},"axis":{"values":[2,4,6,8],"title":"ρ","titleY":16,"labelPadding":6,"titleFontStyle":"italic","titleFontSize":20,"labelExpr":"toString(datum.value)"}},
                   "y":{"field":"y","type":"quantitative","scale":{"domain":[-7.05,7.05],"nice":false,"zero":false},"axis":{"values":[-6,-4,-2,0,2,4,6],"title":"Z","titleX":-17,"titleAngle":0,"titleFontStyle":"italic","titleFontSize":20,"labelExpr":"toString(datum.value)"}}},
       "layer":[
         {"data":{"name":"d3r"},"mark":{"type":"line","interpolate":"catmull-rom","clip":true},"encoding":{"detail":{"field":"c","type":"nominal"},"order":{"value":null}}},
         {"data":{"values":[{"x":3.84,"y":3.62,"t":"2"},{"x":3.25,"y":0,"t":"4"},{"x":7.34,"y":0,"t":"4"}]},"mark":{"type":"text","fontSize":19},"encoding":{"text":{"field":"t","type":"nominal"}}}
       ]}
    ], "spacing":0, "bounds":"flush"},
    {"width":211.7,"height":1,"view":{"stroke":null},"data":{"values":[{}]},"mark":{"type":"point","opacity":0}},
    {"vconcat": [
      {"width":1,"height":252.5,"view":{"stroke":null},"data":{"values":[{}]},"mark":{"type":"point","opacity":0}},
      {"width":340,"height":30,"view":{"stroke":null},"data":{"values":[{"t":"Domain 4 (d₃=2, d₄=6, r₂=1)"}]},"mark":{"type":"text","fontSize":23},"encoding":{"text":{"field":"t","type":"nominal"}}}
    ], "spacing":0, "bounds":"flush"},
    {"width":21.6,"height":1,"view":{"stroke":null},"data":{"values":[{}]},"mark":{"type":"point","opacity":0}},
    {"vconcat": [
      {"width":1,"height":53.3,"view":{"stroke":null},"data":{"values":[{}]},"mark":{"type":"point","opacity":0}},
      {"width":129.4,"height":129.4,
       "encoding":{"x":{"field":"x","type":"quantitative","scale":{"domain":[-3.1416,3.1416],"nice":false,"zero":false},"axis":{"values":[-2,0,2],"title":"θ₂ [rad]","titleY":27.5,"labelExpr":"toString(datum.value)"}},
                   "y":{"field":"y","type":"quantitative","scale":{"domain":[-3.1416,3.1416],"nice":false,"zero":false},"axis":{"values":[-3,-2,-1,0,1,2,3],"title":"θ₃ [rad]","titleX":-23.3,"labelExpr":"toString(datum.value)"}}},
       "layer":[
         {"data":{"name":"d4l"},"mark":{"type":"line","interpolate":"catmull-rom","clip":true},"encoding":{"detail":{"field":"c","type":"nominal"},"order":{"value":null}}},
         {"data":{"name":"a4l"},"mark":{"type":"line","strokeWidth":0.9},"encoding":{"detail":{"field":"c","type":"nominal"},"order":{"value":null}}},
         {"data":{"name":"a4l"},"transform":[{"filter":"datum.c=='E' && datum.h==1"}],"mark":{"type":"point","shape":"triangle-up","filled":true,"size":26,"angle":333.4,"opacity":1}},
         {"data":{"name":"a4l"},"transform":[{"filter":"datum.c=='F' && datum.h==1"}],"mark":{"type":"point","shape":"triangle-up","filled":true,"size":26,"angle":260.8,"opacity":1}},
         {"data":{"values":[{"x":-1.12,"y":-0.34,"t":"S₂"},{"x":4.14,"y":-2.45,"t":"S₁"}]},"mark":{"type":"text","fontSize":16,"fontStyle":"italic"},"encoding":{"text":{"field":"t","type":"nominal"}}}
       ]}
    ], "spacing":0, "bounds":"flush"},
    {"width":178.4,"height":1,"view":{"stroke":null},"data":{"values":[{}]},"mark":{"type":"point","opacity":0}},
    {"vconcat": [
      {"width":1,"height":5,"view":{"stroke":null},"data":{"values":[{}]},"mark":{"type":"point","opacity":0}},
      {"width":127.8,"height":225,
       "encoding":{"x":{"field":"x","type":"quantitative","scale":{"domain":[0,9.02],"nice":false,"zero":false},"axis":{"values":[2,4,6,8],"title":"ρ","titleY":15,"labelPadding":6,"titleFontStyle":"italic","titleFontSize":19,"labelExpr":"toString(datum.value)"}},
                   "y":{"field":"y","type":"quantitative","scale":{"domain":[-8.05,8.05],"nice":false,"zero":false},"axis":{"values":[-6,-4,-2,0,2,4,6],"title":"Z","titleX":-17,"titleAngle":0,"titleFontStyle":"italic","titleFontSize":20,"labelExpr":"toString(datum.value)"}}},
       "layer":[
         {"data":{"name":"d4r"},"mark":{"type":"line","interpolate":"catmull-rom","clip":true},"encoding":{"detail":{"field":"c","type":"nominal"},"order":{"value":null}}},
         {"data":{"name":"a4r"},"mark":{"type":"line","strokeWidth":0.9},"encoding":{"detail":{"field":"c","type":"nominal"},"order":{"value":null}}},
         {"data":{"name":"a4r"},"transform":[{"filter":"datum.c=='G' && datum.h==1"}],"mark":{"type":"point","shape":"triangle-up","filled":true,"size":26,"angle":129.8,"opacity":1}},
         {"data":{"name":"a4r"},"transform":[{"filter":"datum.c=='H' && datum.h==1"}],"mark":{"type":"point","shape":"triangle-up","filled":true,"size":26,"angle":349.1,"opacity":1}},
         {"data":{"values":[{"x":5.65,"y":0.13,"t":"4"},{"x":3.53,"y":-1.77,"t":"2"},{"x":5.95,"y":-4.75,"t":"2"},{"x":8.47,"y":-6.42,"t":"4"},{"x":-2.64,"y":6.31,"t":"4"}]},"mark":{"type":"text","fontSize":17},"encoding":{"text":{"field":"t","type":"nominal"}}}
       ]}
    ], "spacing":0, "bounds":"flush"}
  ], "spacing":0, "bounds":"flush"},
  {"width":1,"height":295,"view":{"stroke":null},"data":{"values":[{}]},"mark":{"type":"point","opacity":0}},
  {"hconcat": [
    {"width":258,"height":1,"view":{"stroke":null},"data":{"values":[{}]},"mark":{"type":"point","opacity":0}},
    {"vconcat": [
      {"width":1,"height":208.3,"view":{"stroke":null},"data":{"values":[{}]},"mark":{"type":"point","opacity":0}},
      {"width":340,"height":30,"view":{"stroke":null},"data":{"values":[{"t":"Domain 5 (d₃=0.5, d₄=0.8, r₂=0.2)"}]},"mark":{"type":"text","fontSize":23},"encoding":{"text":{"field":"t","type":"nominal"}}}
    ], "spacing":0, "bounds":"flush"},
    {"width":2,"height":1,"view":{"stroke":null},"data":{"values":[{}]},"mark":{"type":"point","opacity":0}},
    {"vconcat": [
      {"width":1,"height":18.3,"view":{"stroke":null},"data":{"values":[{}]},"mark":{"type":"point","opacity":0}},
      {"width":146.7,"height":145.7,
       "encoding":{"x":{"field":"x","type":"quantitative","scale":{"domain":[-3.1416,3.1416],"nice":false,"zero":false},"axis":{"values":[-2,0,2],"title":"θ₂ [rad]","titleY":28.3,"labelExpr":"toString(datum.value)"}},
                   "y":{"field":"y","type":"quantitative","scale":{"domain":[-3.1416,3.1416],"nice":false,"zero":false},"axis":{"values":[-3,-2,-1,0,1,2,3],"title":"θ₃ [rad]","titleX":-23.3,"labelExpr":"toString(datum.value)"}}},
       "layer":[
         {"data":{"name":"d5l"},"mark":{"type":"line","interpolate":"catmull-rom","clip":true},"encoding":{"detail":{"field":"c","type":"nominal"},"order":{"value":null}}}
       ]}
    ], "spacing":0, "bounds":"flush"},
    {"width":201,"height":1,"view":{"stroke":null},"data":{"values":[{}]},"mark":{"type":"point","opacity":0}},
    {"vconcat": [
      {"width":1,"height":9.3,"view":{"stroke":null},"data":{"values":[{}]},"mark":{"type":"point","opacity":0}},
      {"width":148,"height":162.7,
       "encoding":{"x":{"field":"x","type":"quantitative","scale":{"domain":[0,2.36],"nice":false,"zero":false},"axis":{"values":[0.5,1,1.5,2],"title":"ρ","titleY":25,"titleFontStyle":"italic","titleFontSize":21,"labelExpr":"toString(datum.value)"}},
                   "y":{"field":"y","type":"quantitative","scale":{"domain":[-1.27,1.27],"nice":false,"zero":false},"axis":{"values":[-1,-0.5,0,0.5,1],"title":"Z","titleX":-26,"titleAngle":0,"titleFontStyle":"italic","titleFontSize":20,"labelExpr":"toString(datum.value)"}}},
       "layer":[
         {"data":{"name":"d5r"},"mark":{"type":"line","interpolate":"catmull-rom","clip":true},"encoding":{"detail":{"field":"c","type":"nominal"},"order":{"value":null}}},
         {"data":{"values":[{"x":1.09,"y":0.76,"t":"2"},{"x":1.09,"y":0.11,"t":"4"}]},"mark":{"type":"text","fontSize":17},"encoding":{"text":{"field":"t","type":"nominal"}}}
       ]}
    ], "spacing":0, "bounds":"flush"}
  ], "spacing":0, "bounds":"flush"}
],
"spacing": 0,
"bounds": "flush"
}
